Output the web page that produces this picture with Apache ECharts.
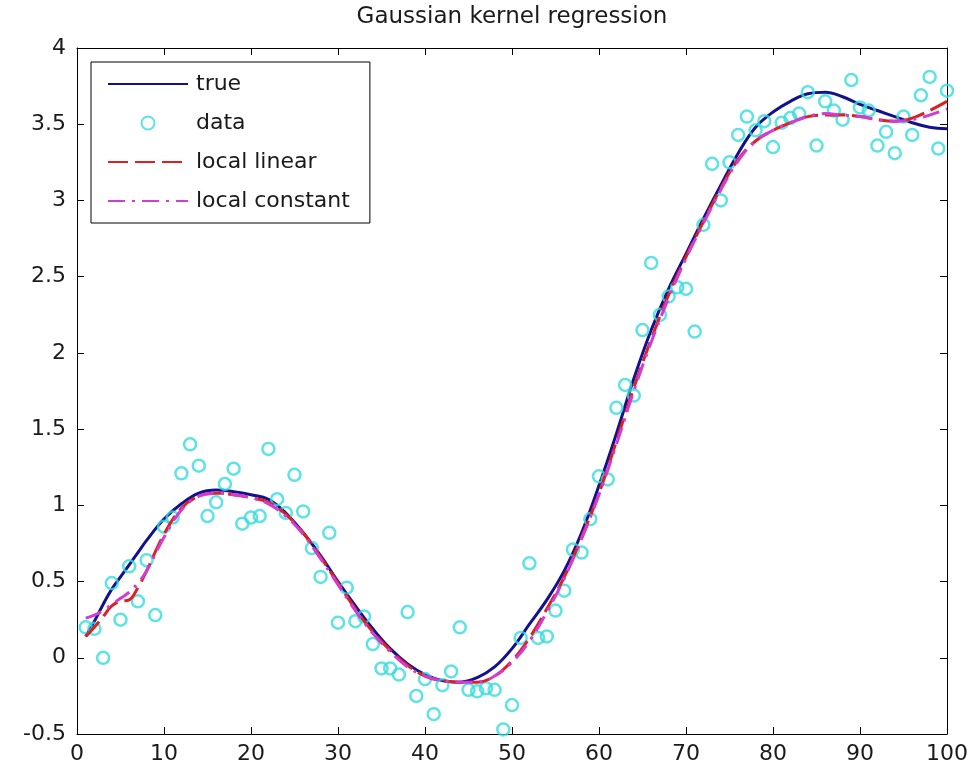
<!DOCTYPE html>
<html lang="en">

<head>
    <meta charset="UTF-8">
    <title>Gaussian kernel regression</title>
    <script src="https://cdn.jsdelivr.net/npm/echarts@6.0.0/dist/echarts.min.js"></script>
    <style>
        html, body {
            margin: 0;
            padding: 0;
            background: #fff;
        }
        .main {
            width: 980px;
            height: 768px;
        }
    </style>
</head>

<body>
    <div class="main" id="main"></div>

    <script>
        // noisy samples, one per x = 1..100
        var dataY = [
            0.20, 0.19, 0.00, 0.49, 0.25, 0.60, 0.37, 0.64, 0.28, 0.86,
            0.92, 1.21, 1.40, 1.26, 0.93, 1.02, 1.14, 1.24, 0.88, 0.92,
            0.93, 1.37, 1.04, 0.95, 1.20, 0.96, 0.72, 0.53, 0.82, 0.23,
            0.46, 0.24, 0.27, 0.09, -0.07, -0.07, -0.11, 0.30, -0.25, -0.14,
            -0.37, -0.18, -0.09, 0.20, -0.21, -0.22, -0.20, -0.21, -0.47, -0.31,
            0.13, 0.62, 0.13, 0.14, 0.31, 0.44, 0.71, 0.69, 0.91, 1.19,
            1.17, 1.64, 1.79, 1.72, 2.15, 2.59, 2.25, 2.37, 2.43, 2.42,
            2.14, 2.84, 3.24, 3.00, 3.25, 3.43, 3.55, 3.46, 3.52, 3.35,
            3.51, 3.54, 3.57, 3.71, 3.36, 3.65, 3.59, 3.53, 3.79, 3.61,
            3.59, 3.36, 3.45, 3.31, 3.55, 3.43, 3.69, 3.81, 3.34, 3.72
        ];

        var lineX = [1, 2, 3, 4, 5, 6, 7, 8, 10, 12, 14, 16, 18, 20, 22, 24, 26, 28, 30,
            32, 34, 36, 38, 40, 42, 44, 46, 48, 50, 52, 54, 56, 58, 60, 62, 64, 66, 68, 70,
            72, 74, 76, 78, 80, 82, 84, 86, 88, 90, 92, 94, 96, 98, 100];

        var trueY = [0.14, 0.24, 0.35, 0.45, 0.53, 0.61, 0.69, 0.77, 0.91, 1.01, 1.08, 1.10, 1.09, 1.07, 1.04, 0.95, 0.82, 0.67, 0.50,
            0.34, 0.19, 0.06, -0.04, -0.11, -0.15, -0.16, -0.13, -0.06, 0.06, 0.22, 0.38, 0.57, 0.82, 1.13, 1.47, 1.83, 2.15, 2.42, 2.65,
            2.88, 3.10, 3.31, 3.48, 3.58, 3.65, 3.70, 3.71, 3.68, 3.63, 3.59, 3.55, 3.51, 3.48, 3.47];

        var linearY = [0.14, 0.20, 0.27, 0.34, 0.37, 0.38, 0.46, 0.57, 0.81, 0.98, 1.06, 1.08, 1.07, 1.05, 1.02, 0.94, 0.82, 0.66, 0.49,
            0.32, 0.17, 0.05, -0.05, -0.12, -0.15, -0.16, -0.16, -0.12, -0.02, 0.13, 0.32, 0.53, 0.79, 1.08, 1.42, 1.77, 2.09, 2.38, 2.63,
            2.86, 3.08, 3.27, 3.39, 3.46, 3.51, 3.55, 3.56, 3.56, 3.55, 3.53, 3.52, 3.54, 3.59, 3.65];

        var constantY = [0.26, 0.28, 0.31, 0.35, 0.39, 0.43, 0.49, 0.57, 0.79, 0.97, 1.06, 1.08, 1.07, 1.05, 1.01, 0.93, 0.81, 0.65, 0.48,
            0.31, 0.16, 0.04, -0.06, -0.12, -0.15, -0.16, -0.16, -0.12, -0.03, 0.11, 0.30, 0.52, 0.78, 1.07, 1.40, 1.75, 2.07, 2.36, 2.62,
            2.85, 3.07, 3.26, 3.39, 3.46, 3.51, 3.55, 3.57, 3.56, 3.55, 3.53, 3.52, 3.53, 3.56, 3.60];

        function pairs(xs, ys) {
            return xs.map(function (x, i) { return [x, ys[i]]; });
        }

        var points = dataY.map(function (y, i) { return [i + 1, y]; });

        var font = 'DejaVu Sans, sans-serif';
        var axisText = { color: '#1a1a1a', fontSize: 22, fontFamily: font };
        var boxLine = { show: true, onZero: false, lineStyle: { color: '#000', width: 1 } };
        var inTick = { show: true, inside: true, length: 7, lineStyle: { color: '#000' } };
        var noDot = { opacity: 0 };

        var chart = echarts.init(document.getElementById('main'));
        chart.setOption({
            backgroundColor: '#fff',
            animation: false,
            title: {
                text: 'Gaussian kernel regression',
                left: 512,
                top: 6,
                padding: 0,
                textAlign: 'center',
                textStyle: { color: '#1a1a1a', fontSize: 23, fontWeight: 'normal', fontFamily: font }
            },
            grid: { left: 77, right: 33, top: 48, bottom: 34, containLabel: false },
            legend: {
                orient: 'vertical',
                left: 91,
                top: 62,
                padding: [11, 20, 11, 16],
                itemGap: 17,
                itemWidth: 80,
                itemHeight: 13,
                backgroundColor: '#fff',
                borderColor: '#000',
                borderWidth: 1,
                borderRadius: 0,
                textStyle: { color: '#1a1a1a', fontSize: 22, fontFamily: font, padding: [0, 0, 0, 3] },
                data: [
                    { name: 'true', itemStyle: noDot },
                    { name: 'data' },
                    { name: 'local linear', itemStyle: noDot },
                    { name: 'local constant', itemStyle: noDot }
                ]
            },
            xAxis: [{
                type: 'value', min: 0, max: 100, interval: 10,
                axisLine: boxLine, axisTick: inTick, splitLine: { show: false },
                axisLabel: Object.assign({ margin: 9 }, axisText)
            }, {
                type: 'value', position: 'top', min: 0, max: 100, interval: 10,
                axisLine: boxLine, axisTick: inTick, splitLine: { show: false },
                axisLabel: { show: false }
            }],
            yAxis: [{
                type: 'value', min: -0.5, max: 4, interval: 0.5,
                axisLine: boxLine, axisTick: inTick, splitLine: { show: false },
                axisLabel: Object.assign({ margin: 11 }, axisText)
            }, {
                type: 'value', position: 'right', min: -0.5, max: 4, interval: 0.5,
                axisLine: boxLine, axisTick: inTick, splitLine: { show: false },
                axisLabel: { show: false }
            }],
            series: [{
                name: 'true',
                type: 'line',
                data: pairs(lineX, trueY),
                smooth: 0.4,
                symbol: 'none',
                showSymbol: false,
                itemStyle: { color: '#12128c' },
                lineStyle: { color: '#12128c', width: 3 },
                z: 2
            }, {
                name: 'data',
                type: 'scatter',
                data: points,
                symbol: 'circle',
                symbolSize: 12,
                itemStyle: { color: 'rgba(0,0,0,0)', borderColor: '#35dcdc', borderWidth: 2.5 },
                z: 3
            }, {
                name: 'local linear',
                type: 'line',
                data: pairs(lineX, linearY),
                smooth: 0.4,
                symbol: 'none',
                showSymbol: false,
                itemStyle: { color: '#dd2020' },
                lineStyle: { color: '#dd2020', width: 3, type: [20, 7] },
                z: 4
            }, {
                name: 'local constant',
                type: 'line',
                data: pairs(lineX, constantY),
                smooth: 0.4,
                symbol: 'none',
                showSymbol: false,
                itemStyle: { color: '#d23cd2' },
                lineStyle: { color: '#d23cd2', width: 3, type: [17, 7, 3, 7] },
                z: 5
            }]
        });
    </script>
</body>

</html>
